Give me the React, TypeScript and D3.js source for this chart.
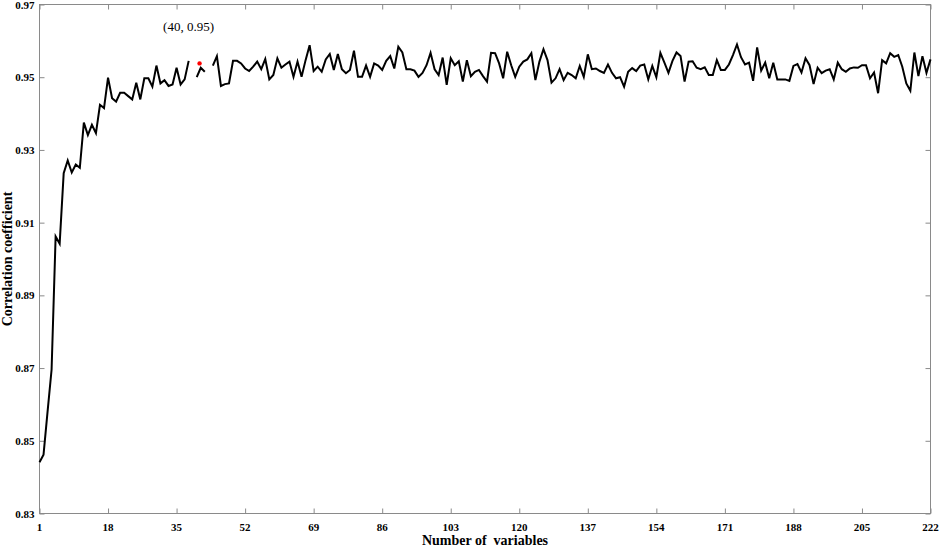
import React, { useRef, useEffect } from 'react';
import * as d3 from 'd3';

// correlation coefficient for 1..222 variables (null = gap in the drawn line)
const corr: (number | null)[] = [
  0.8441, 0.8462, 0.858, 0.8696, 0.9062, 0.9042, 0.9236, 0.9271, 0.9238, 0.926,
  0.9251, 0.9375, 0.9341, 0.9369, 0.9346, 0.9424, 0.9415, 0.9499, 0.9442, 0.9433,
  0.9457, 0.9457, 0.9448, 0.9439, 0.9485, 0.9439, 0.9497, 0.9497, 0.9474, 0.9532,
  0.9483, 0.9492, 0.9476, 0.948, 0.9526, 0.948, 0.9494, 0.9545, null, 0.95,
  0.9526, 0.9515, null, 0.9532, 0.9558, 0.9476, 0.9481, 0.9483, 0.9545, 0.9545,
  0.9538, 0.9524, 0.9517, 0.9529, 0.9543, 0.9522, 0.955, 0.9494, 0.9506, 0.9552,
  0.9526, 0.9535, 0.9543, 0.9501, 0.9543, 0.9501, 0.9547, 0.9588, 0.9517, 0.9529,
  0.9515, 0.9549, 0.9564, 0.952, 0.9564, 0.9522, 0.9511, 0.952, 0.9573, 0.9501,
  0.9501, 0.9532, 0.9501, 0.9538, 0.9532, 0.952, 0.9545, 0.9558, 0.9524, 0.9584,
  0.9568, 0.9522, 0.9522, 0.9518, 0.9501, 0.9512, 0.9533, 0.9567, 0.9522, 0.9506,
  0.9554, 0.9479, 0.9552, 0.9533, 0.9544, 0.9488, 0.9547, 0.9503, 0.9515, 0.952,
  0.9503, 0.9488, 0.9567, 0.9566, 0.9538, 0.9497, 0.957, 0.9533, 0.9501, 0.9529,
  0.9543, 0.9549, 0.9566, 0.9492, 0.9543, 0.9577, 0.9547, 0.9485, 0.9497, 0.9522,
  0.9492, 0.9512, 0.9506, 0.9497, 0.9531, 0.9501, 0.9563, 0.9522, 0.9524, 0.9517,
  0.9512, 0.9535, 0.9512, 0.9497, 0.95, 0.9474, 0.9515, 0.9525, 0.9517, 0.9532,
  0.9535, 0.9494, 0.9531, 0.95, 0.9567, 0.954, 0.9512, 0.9545, 0.9568, 0.9558,
  0.9488, 0.9543, 0.9544, 0.9526, 0.9522, 0.9527, 0.9506, 0.9506, 0.9547, 0.952,
  0.952, 0.9535, 0.9561, 0.959, 0.9555, 0.9535, 0.954, 0.949, 0.9582, 0.9518,
  0.954, 0.9497, 0.954, 0.9494, 0.9494, 0.9494, 0.949, 0.9531, 0.9536, 0.9513,
  0.9552, 0.9533, 0.9481, 0.9526, 0.9511, 0.9518, 0.9522, 0.9494, 0.954, 0.9522,
  0.9515, 0.9524, 0.9527, 0.9526, 0.9533, 0.9533, 0.9497, 0.9513, 0.9456, 0.9547,
  0.9538, 0.9566, 0.9556, 0.9561, 0.9529, 0.9483, 0.9463, 0.9568, 0.9503, 0.9558,
  0.9512, 0.9549
];

const xTicks = [1, 18, 35, 52, 69, 86, 103, 120, 137, 154, 171, 188, 205, 222];
const yTicks = [0.83, 0.85, 0.87, 0.89, 0.91, 0.93, 0.95, 0.97];

// highlighted point and its label
const markPoint = { x: 40.7, y: 0.9538 };
const markLabel = '(40, 0.95)';

const xTitle = 'Number of  variables';
const yTitle = 'Correlation coefficient';

const W = 941;
const H = 546;

const Chart = () => {
  const ref = useRef<SVGSVGElement>(null);

  useEffect(() => {
    const svg = d3.select(ref.current);
    svg.selectAll('*').remove();

    const margin = { top: 4.5, right: 10.5, bottom: 32.5, left: 39.5 };
    const width = W - margin.left - margin.right;
    const height = H - margin.top - margin.bottom;

    const g = svg.append('g')
      .attr('transform', 'translate(' + margin.left + ',' + margin.top + ')');

    const xScale = d3.scaleLinear().domain([1, 222]).range([0, width]);
    const yScale = d3.scaleLinear().domain([0.83, 0.97]).range([height, 0]);

    const axisColor = '#8a8a8a';
    const font = '"Liberation Serif", "Times New Roman", serif';
    const tick = 5;

    // box
    g.append('rect')
      .attr('width', width).attr('height', height)
      .attr('fill', 'none').attr('stroke', axisColor).attr('stroke-width', 1);

    // inward ticks on all four sides
    const bottomAxis = d3.axisBottom(xScale).tickValues(xTicks).tickSizeInner(-tick).tickSizeOuter(0).tickFormat(() => '');
    const topAxis = d3.axisTop(xScale).tickValues(xTicks).tickSizeInner(-tick).tickSizeOuter(0).tickFormat(() => '');
    const leftAxis = d3.axisLeft(yScale).tickValues(yTicks).tickSizeInner(-tick).tickSizeOuter(0).tickFormat(() => '');
    const rightAxis = d3.axisRight(yScale).tickValues(yTicks).tickSizeInner(-tick).tickSizeOuter(0).tickFormat(() => '');

    g.append('g').attr('transform', 'translate(0,' + height + ')').call(bottomAxis);
    g.append('g').call(topAxis);
    g.append('g').call(leftAxis);
    g.append('g').attr('transform', 'translate(' + width + ',0)').call(rightAxis);
    g.selectAll('.domain').remove();
    g.selectAll('.tick line').attr('stroke', axisColor);

    // tick labels
    g.append('g').selectAll('text').data(xTicks).enter().append('text')
      .attr('x', d => xScale(d))
      .attr('y', height + 17)
      .attr('text-anchor', 'middle')
      .style('font-family', font).style('font-weight', 'bold').style('font-size', '11px')
      .text(d => d);

    g.append('g').selectAll('text').data(yTicks).enter().append('text')
      .attr('x', -5)
      .attr('y', d => yScale(d) + 4)
      .attr('text-anchor', 'end')
      .style('font-family', font).style('font-weight', 'bold').style('font-size', '11px')
      .text(d => d.toFixed(2));

    // the line
    const line = d3.line<number | null>()
      .defined(d => d !== null)
      .x((d, i) => xScale(i + 1))
      .y(d => yScale(d as number));

    g.append('path')
      .datum(corr)
      .attr('fill', 'none')
      .attr('stroke', '#000')
      .attr('stroke-width', 2)
      .attr('stroke-linejoin', 'miter')
      .attr('d', line);

    // highlighted point
    g.append('circle')
      .attr('cx', xScale(markPoint.x))
      .attr('cy', yScale(markPoint.y))
      .attr('r', 2.2)
      .attr('fill', '#ff0000');

    g.append('text')
      .attr('x', xScale(markPoint.x) - 11)
      .attr('y', 26)
      .attr('text-anchor', 'middle')
      .style('font-family', font).style('font-size', '13px')
      .text(markLabel);

    // axis titles
    g.append('text')
      .attr('x', width / 2)
      .attr('y', height + 31)
      .attr('text-anchor', 'middle')
      .style('font-family', font).style('font-weight', 'bold').style('font-size', '14px')
      .style('white-space', 'pre')
      .text(xTitle);

    g.append('text')
      .attr('transform', 'rotate(-90)')
      .attr('x', -height / 2)
      .attr('y', -margin.left + 12)
      .attr('text-anchor', 'middle')
      .style('font-family', font).style('font-weight', 'bold').style('font-size', '14px')
      .text(yTitle);
  }, []);

  return (
    <svg ref={ref} width={W} height={H}
      style={{ position: 'absolute', left: 0, top: 0, background: '#fff' }}></svg>
  );
};

export default function App() {
  return <Chart />;
}
